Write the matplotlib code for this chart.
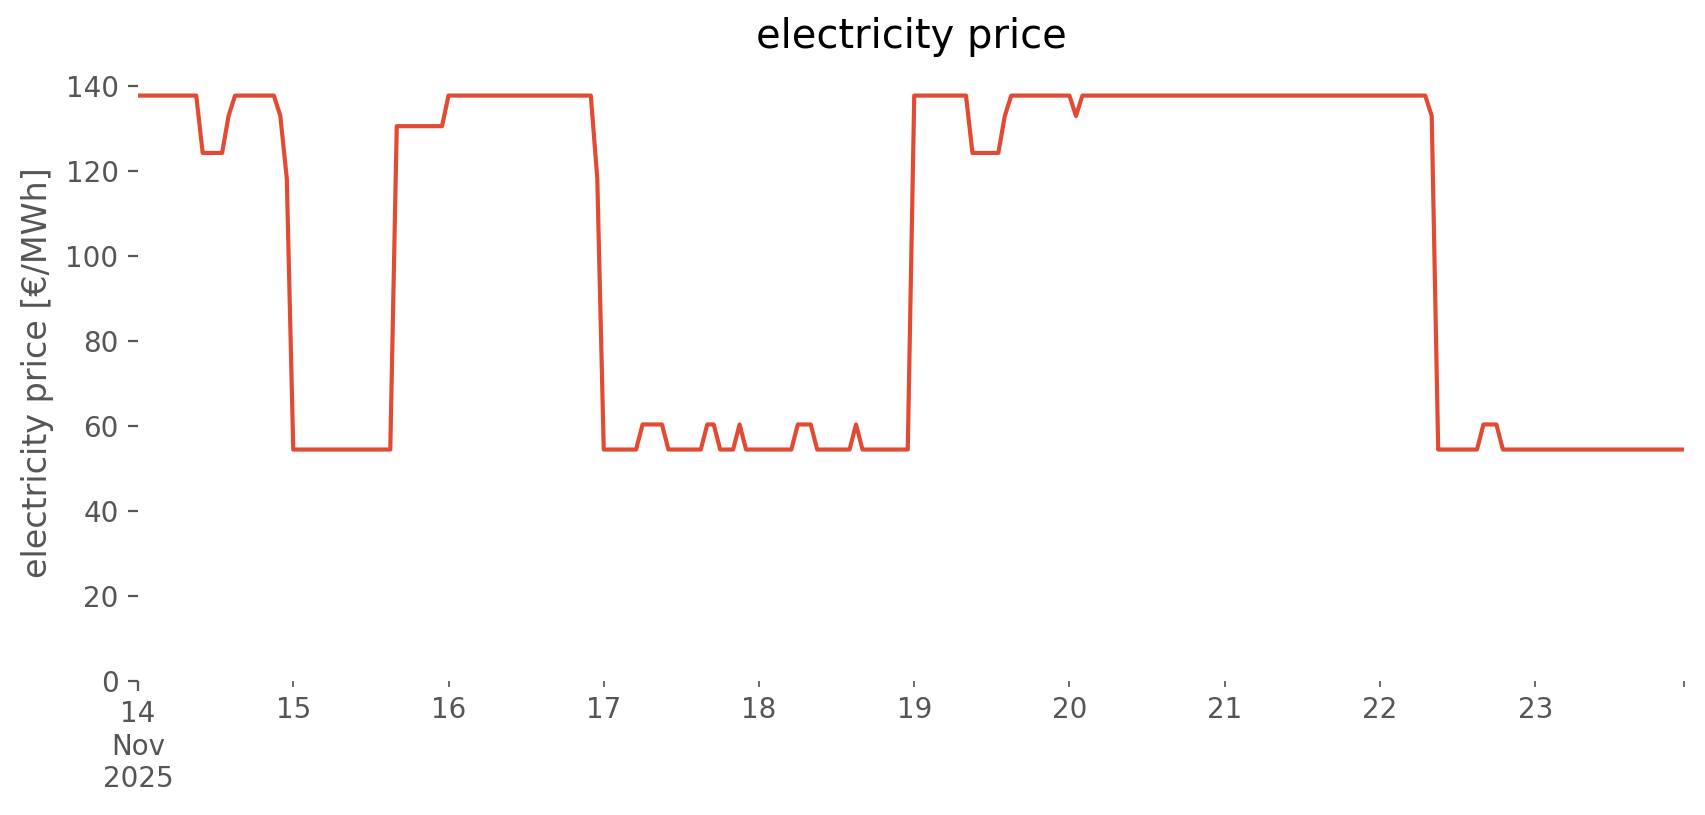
import matplotlib
matplotlib.use("Agg")
import matplotlib.pyplot as plt
import matplotlib.dates as mdates
import pandas as pd

# hourly electricity price [EUR/MWh], one list per day
nov14 = [137.7, 137.7, 137.7, 137.7, 137.7, 137.7, 137.7, 137.7, 137.7, 137.7, 124.2, 124.2,
         124.2, 124.2, 132.9, 137.7, 137.7, 137.7, 137.7, 137.7, 137.7, 137.7, 132.9, 118.2]
nov15 = [54.4, 54.4, 54.4, 54.4, 54.4, 54.4, 54.4, 54.4, 54.4, 54.4, 54.4, 54.4,
         54.4, 54.4, 54.4, 54.4, 130.5, 130.5, 130.5, 130.5, 130.5, 130.5, 130.5, 130.5]
nov16 = [137.7, 137.7, 137.7, 137.7, 137.7, 137.7, 137.7, 137.7, 137.7, 137.7, 137.7, 137.7,
         137.7, 137.7, 137.7, 137.7, 137.7, 137.7, 137.7, 137.7, 137.7, 137.7, 137.7, 118.2]
nov17 = [54.4, 54.4, 54.4, 54.4, 54.4, 54.4, 60.3, 60.3, 60.3, 60.3, 54.4, 54.4,
         54.4, 54.4, 54.4, 54.4, 60.3, 60.3, 54.4, 54.4, 54.4, 60.3, 54.4, 54.4]
nov18 = [54.4, 54.4, 54.4, 54.4, 54.4, 54.4, 60.3, 60.3, 60.3, 54.4, 54.4, 54.4,
         54.4, 54.4, 54.4, 60.3, 54.4, 54.4, 54.4, 54.4, 54.4, 54.4, 54.4, 54.4]
nov19 = [137.7, 137.7, 137.7, 137.7, 137.7, 137.7, 137.7, 137.7, 137.7, 124.2, 124.2, 124.2,
         124.2, 124.2, 132.9, 137.7, 137.7, 137.7, 137.7, 137.7, 137.7, 137.7, 137.7, 137.7]
nov20 = [137.7, 132.9, 137.7, 137.7, 137.7, 137.7, 137.7, 137.7, 137.7, 137.7, 137.7, 137.7,
         137.7, 137.7, 137.7, 137.7, 137.7, 137.7, 137.7, 137.7, 137.7, 137.7, 137.7, 137.7]
nov21 = [137.7, 137.7, 137.7, 137.7, 137.7, 137.7, 137.7, 137.7, 137.7, 137.7, 137.7, 137.7,
         137.7, 137.7, 137.7, 137.7, 137.7, 137.7, 137.7, 137.7, 137.7, 137.7, 137.7, 137.7]
nov22 = [137.7, 137.7, 137.7, 137.7, 137.7, 137.7, 137.7, 137.7, 132.9, 54.4, 54.4, 54.4,
         54.4, 54.4, 54.4, 54.4, 60.3, 60.3, 60.3, 54.4, 54.4, 54.4, 54.4, 54.4]
nov23 = [54.4, 54.4, 54.4, 54.4, 54.4, 54.4, 54.4, 54.4, 54.4, 54.4, 54.4, 54.4,
         54.4, 54.4, 54.4, 54.4, 54.4, 54.4, 54.4, 54.4, 54.4, 54.4, 54.4, 54.4]

prices = nov14 + nov15 + nov16 + nov17 + nov18 + nov19 + nov20 + nov21 + nov22 + nov23
times = pd.date_range("2025-11-14 00:00", periods=len(prices), freq="h")

day_labels = ["14\nNov\n2025", "15", "16", "17", "18", "19", "20", "21", "22", "23"]
days = pd.date_range("2025-11-14", periods=len(day_labels), freq="D")

plt.style.use("ggplot")

fig = plt.figure(figsize=(8.53, 4.075), dpi=200)
ax = fig.add_axes([0.0809, 0.1648, 0.9062, 0.756])
ax.set_facecolor("white")
ax.grid(False)

ax.plot(times, prices, color="#E24A33", linewidth=1.5)

ax.set_xlim(times[0], times[-1])
ax.set_ylim(0, 145)

# first day gets the long tick with month/year, the rest short ticks
day_nums = mdates.date2num(days.to_pydatetime())
end_num = mdates.date2num(times[-1].to_pydatetime())
ax.set_xticks([day_nums[0]])
ax.set_xticklabels([day_labels[0]])
ax.set_xticks(list(day_nums[1:]) + [end_num], minor=True)
ax.set_xticklabels(day_labels[1:] + [""], minor=True)
ax.tick_params(axis="x", which="both", labelsize=10, colors="#555555")

ax.set_yticks([0, 20, 40, 60, 80, 100, 120, 140])
ax.tick_params(axis="y", labelsize=10, colors="#555555")

ax.set_ylabel("electricity price [€/MWh]", fontsize=12, color="#555555")
ax.set_title("electricity price", fontsize=14.4, color="black")

for s in ax.spines.values():
    s.set_visible(False)

fig.savefig("out.png", dpi=200, facecolor="white")
